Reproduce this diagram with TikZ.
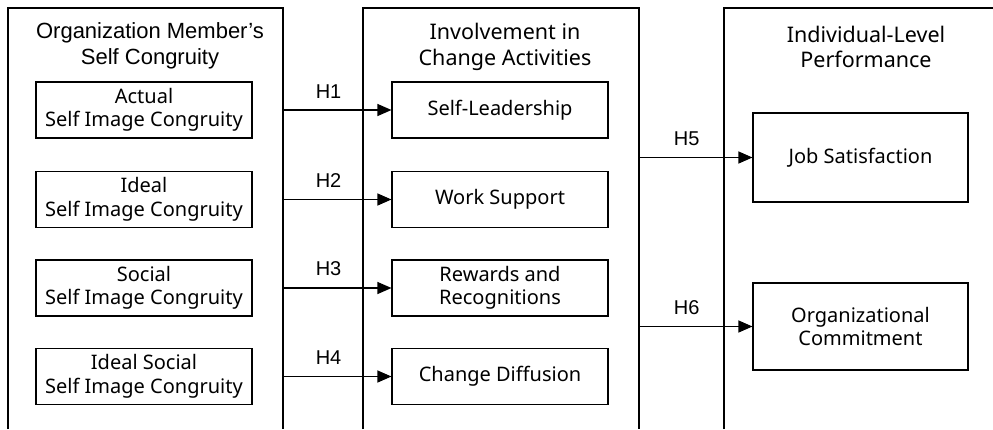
\documentclass[tikz,border=0pt]{standalone}
\usepackage{fontspec}
\setmainfont{Liberation Sans}
\newfontfamily\boxfont{Noto Sans}
\usetikzlibrary{arrows.meta}

\tikzset{
  item/.style={draw,line width=1.1pt,minimum width=216pt,minimum height=56pt,align=center,
    font=\boxfont\fontsize{20}{23.5}\selectfont},
  head/.style={align=center,font=\fontsize{22}{26}\selectfont},
  subhead/.style={align=center,font=\boxfont\fontsize{21.5}{25.5}\selectfont},
  hyp/.style={line width=1.1pt,-{Triangle[length=14pt,width=12pt]}},
  hlab/.style={above=8pt,pos=0.42,font=\fontsize{20}{24}\selectfont}
}

\begin{document}
\begin{tikzpicture}[x=1pt,y=-1pt]
      \useasboundingbox (0,0) rectangle (993,429);
      % three open frames
      \draw[line width=1.1pt] (8,429) |- (283,8) -- (283,429);
      \draw[line width=1.1pt] (363,429) |- (639,8) -- (639,429);
      \draw[line width=1.1pt] (724,429) |- (993,8);
      \coordinate (memR) at (283,0);
      \coordinate (invR) at (639,0);
      \node[head] (memT) at (150,46) {Organization Member's\\Self Congruity};
      \node[subhead] (invT) at (505,47) {Involvement in\\Change Activities};
      \node[subhead] (perT) at (866,47) {Individual-Level\\Performance};
      % self congruity
      \node[item] (act) at (144,110) {Actual\\Self Image Congruity};
      \node[item] (ideal) at (144,199.5) {Ideal\\Self Image Congruity};
      \node[item] (soc) at (144,288) {Social\\Self Image Congruity};
      \node[item] (idsoc) at (144,376.5) {Ideal Social\\Self Image Congruity};
      % change activities
      \node[item] (lead) at (500,110) {Self-Leadership};
      \node[item] (supp) at (500,199.5) {Work Support};
      \node[item] (rew) at (500,288) {Rewards and\\Recognitions};
      \node[item] (diff) at (500,376.5) {Change Diffusion};
      % performance
      \node[item,minimum width=215pt,minimum height=89pt] (job) at (860.5,157.5) {Job Satisfaction};
      \node[item,minimum width=215pt,minimum height=87pt] (comm) at (860.5,326.5) {Organizational\\Commitment};
      % hypotheses
      \draw[hyp] (act -| memR) -- (lead) node[hlab]{H1};
      \draw[hyp] (ideal -| memR) -- (supp) node[hlab]{H2};
      \draw[hyp] (soc -| memR) -- (rew) node[hlab]{H3};
      \draw[hyp] (idsoc -| memR) -- (diff) node[hlab]{H4};
      \draw[hyp] (job -| invR) -- (job) node[hlab]{H5};
      \draw[hyp] (comm -| invR) -- (comm) node[hlab]{H6};
    \end{tikzpicture}
\end{document}
